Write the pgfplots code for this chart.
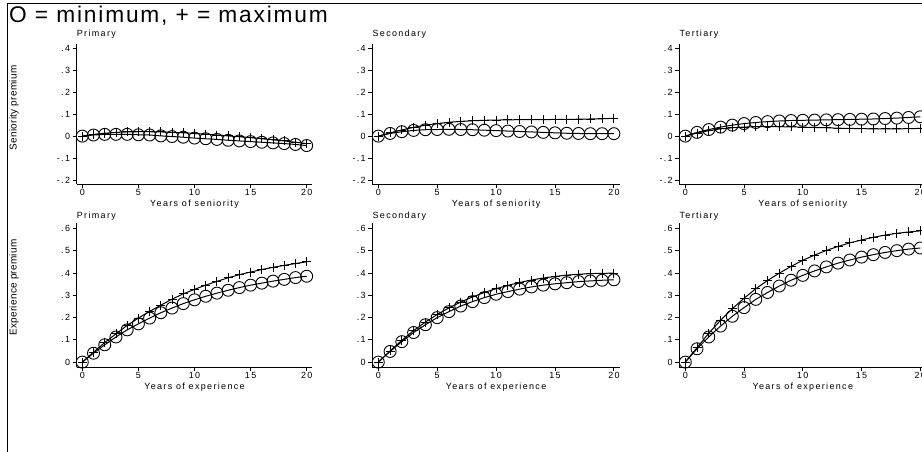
\documentclass[border=0pt]{standalone}
\usepackage{fontspec}
\setmainfont{Liberation Sans}
\newfontfamily\spf[LetterSpace=15]{Liberation Sans}
\newfontfamily\ylf[LetterSpace=3]{Liberation Sans}
\newfontfamily\ttlf[LetterSpace=8]{Liberation Sans}
\usepackage{pgfplots}
\pgfplotsset{compat=1.18}
\pgfplotsset{
 panel/.style={
  scale only axis, clip=false,
  xmin=-0.5, xmax=20.5,
  axis x line=bottom, axis y line=left,
  axis line style={-, line width=1bp, black},
  tick align=outside, major tick length=4bp,
  every tick/.style={line width=1bp, black},
  xtick={0,5,10,15,20},
  /pgf/number format/assume math mode=true,
  ticklabel style={font=\spf\fontsize{9}{10}\selectfont, inner sep=1bp},
  yticklabel style={inner sep=2.5bp},
  xlabel style={font=\spf\fontsize{9}{10}\selectfont, at={(axis description cs:0.5,0)}, anchor=north, yshift=-15.5bp, inner sep=0pt},
 },
 toprow/.style={ymin=-0.22, ymax=0.42, height=140.5bp,
  ytick={-0.2,-0.1,0,0.1,0.2,0.3,0.4}, yticklabels={-.2,-.1,0,.1,.2,.3,.4}, xlabel={Years of seniority}},
 botrow/.style={ymin=-0.022, ymax=0.624, height=143.7bp,
  ytick={0,0.1,0.2,0.3,0.4,0.5,0.6}, yticklabels={0,.1,.2,.3,.4,.5,.6}, xlabel={Years of experience}},
 mn/.style={black, line width=1bp, mark=o, mark size=6bp, mark options={line width=0.9bp}},
 mx/.style={black, line width=1bp, mark=+, mark size=4.5bp, mark options={line width=0.9bp}},
}
\tikzset{ptitle/.style={anchor=base west, inner sep=0pt, font=\spf\fontsize{9}{10}\selectfont}}
\begin{document}
\begin{tikzpicture}
\path[use as bounding box] (0,0) rectangle (922bp,-452bp);
\clip (0,0) rectangle (922bp,-452bp);
\draw[line width=1bp] (7.5bp,-452bp) -- (7.5bp,-3.5bp) -- (922bp,-3.5bp);
\node[anchor=base west, inner sep=0pt, font=\ttlf\fontsize{22.8}{24}\selectfont] at (9bp,-22.5bp) {O = minimum, + = maximum};
\node[rotate=90, inner sep=0pt, font=\ylf\fontsize{10}{12}\selectfont] at (14bp,-108bp) {Seniority premium};
\node[rotate=90, inner sep=0pt, font=\ylf\fontsize{10}{12}\selectfont] at (14bp,-287.5bp) {Experience premium};

% ---------- Top row: seniority ----------
\begin{axis}[panel, toprow, width=235.6bp, at={(76.7bp,-184.4bp)}, anchor=south west]
\addplot[mn] coordinates {(0,0) (1,0.005) (2,0.008) (3,0.008) (4,0.008) (5,0.006) (6,0.005) (7,0.001) (8,-0.002) (9,-0.005) (10,-0.009) (11,-0.012) (12,-0.015) (13,-0.019) (14,-0.022) (15,-0.025) (16,-0.028) (17,-0.031) (18,-0.034) (19,-0.038) (20,-0.043)};
\addplot[mx] coordinates {(0,0) (1,0.008) (2,0.013) (3,0.017) (4,0.019) (5,0.02) (6,0.02) (7,0.019) (8,0.017) (9,0.015) (10,0.012) (11,0.009) (12,0.005) (13,0.001) (14,-0.003) (15,-0.007) (16,-0.012) (17,-0.017) (18,-0.022) (19,-0.028) (20,-0.034)};
\node[ptitle] at (rel axis cs:0,1) [yshift=7bp] {Primary};
\end{axis}

\begin{axis}[panel, toprow, width=247.4bp, at={(372.4bp,-184.4bp)}, anchor=south west]
\addplot[mn] coordinates {(0,0) (1,0.012) (2,0.02) (3,0.026) (4,0.029) (5,0.03) (6,0.031) (7,0.03) (8,0.029) (9,0.027) (10,0.025) (11,0.023) (12,0.021) (13,0.019) (14,0.017) (15,0.015) (16,0.013) (17,0.012) (18,0.011) (19,0.011) (20,0.011)};
\addplot[mx] coordinates {(0,0) (1,0.015) (2,0.028) (3,0.04) (4,0.05) (5,0.057) (6,0.063) (7,0.067) (8,0.07) (9,0.072) (10,0.073) (11,0.074) (12,0.075) (13,0.075) (14,0.075) (15,0.076) (16,0.076) (17,0.077) (18,0.078) (19,0.079) (20,0.081)};
\node[ptitle] at (rel axis cs:0,1) [yshift=7bp] {Secondary};
\end{axis}

\begin{axis}[panel, toprow, width=246.8bp, at={(679.4bp,-184.4bp)}, anchor=south west]
\addplot[mn] coordinates {(0,0) (1,0.017) (2,0.03) (3,0.041) (4,0.05) (5,0.057) (6,0.062) (7,0.066) (8,0.069) (9,0.071) (10,0.072) (11,0.073) (12,0.074) (13,0.075) (14,0.076) (15,0.077) (16,0.078) (17,0.08) (18,0.082) (19,0.085) (20,0.088)};
\addplot[mx] coordinates {(0,0) (1,0.014) (2,0.025) (3,0.033) (4,0.038) (5,0.041) (6,0.043) (7,0.043) (8,0.043) (9,0.042) (10,0.041) (11,0.039) (12,0.038) (13,0.036) (14,0.035) (15,0.034) (16,0.033) (17,0.033) (18,0.033) (19,0.034) (20,0.035)};
\node[ptitle] at (rel axis cs:0,1) [yshift=7bp] {Tertiary};
\end{axis}

% ---------- Bottom row: experience ----------
\begin{axis}[panel, botrow, width=235.6bp, at={(76.7bp,-367bp)}, anchor=south west]
\addplot[mn] coordinates {(0,0) (1,0.04) (2,0.078) (3,0.113) (4,0.145) (5,0.172) (6,0.198) (7,0.222) (8,0.243) (9,0.263) (10,0.28) (11,0.296) (12,0.31) (13,0.323) (14,0.335) (15,0.346) (16,0.355) (17,0.364) (18,0.372) (19,0.38) (20,0.386)};
\addplot[mx] coordinates {(0,0) (1,0.045) (2,0.088) (3,0.127) (4,0.165) (5,0.198) (6,0.228) (7,0.256) (8,0.283) (9,0.307) (10,0.327) (11,0.346) (12,0.363) (13,0.379) (14,0.393) (15,0.405) (16,0.416) (17,0.426) (18,0.435) (19,0.443) (20,0.451)};
\node[ptitle] at (rel axis cs:0,1) [yshift=5bp] {Primary};
\end{axis}

\begin{axis}[panel, botrow, width=247.4bp, at={(372.4bp,-367bp)}, anchor=south west]
\addplot[mn] coordinates {(0,0) (1,0.048) (2,0.092) (3,0.133) (4,0.168) (5,0.2) (6,0.227) (7,0.252) (8,0.272) (9,0.29) (10,0.305) (11,0.317) (12,0.328) (13,0.338) (14,0.346) (15,0.352) (16,0.357) (17,0.362) (18,0.365) (19,0.368) (20,0.37)};
\addplot[mx] coordinates {(0,0) (1,0.05) (2,0.098) (3,0.142) (4,0.18) (5,0.214) (6,0.244) (7,0.27) (8,0.293) (9,0.313) (10,0.33) (11,0.345) (12,0.358) (13,0.369) (14,0.378) (15,0.385) (16,0.391) (17,0.395) (18,0.398) (19,0.399) (20,0.4)};
\node[ptitle] at (rel axis cs:0,1) [yshift=5bp] {Secondary};
\end{axis}

\begin{axis}[panel, botrow, width=246.8bp, at={(679.4bp,-367bp)}, anchor=south west]
\addplot[mn] coordinates {(0,0) (1,0.06) (2,0.113) (3,0.162) (4,0.206) (5,0.245) (6,0.282) (7,0.313) (8,0.342) (9,0.368) (10,0.39) (11,0.41) (12,0.428) (13,0.445) (14,0.459) (15,0.472) (16,0.483) (17,0.493) (18,0.501) (19,0.508) (20,0.513)};
\addplot[mx] coordinates {(0,0) (1,0.065) (2,0.13) (3,0.188) (4,0.24) (5,0.287) (6,0.33) (7,0.367) (8,0.4) (9,0.43) (10,0.458) (11,0.481) (12,0.502) (13,0.52) (14,0.536) (15,0.549) (16,0.561) (17,0.571) (18,0.579) (19,0.585) (20,0.59)};
\node[ptitle] at (rel axis cs:0,1) [yshift=5bp] {Tertiary};
\end{axis}
\end{tikzpicture}
\end{document}
